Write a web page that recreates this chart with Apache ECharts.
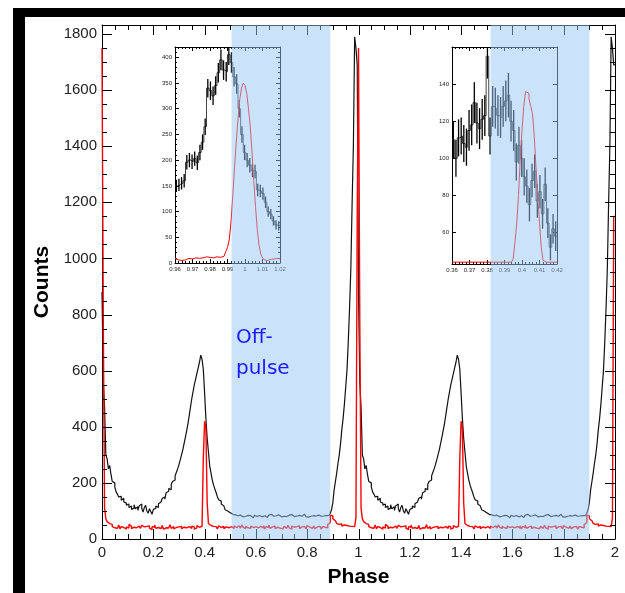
<!DOCTYPE html>
<html><head><meta charset="utf-8">
<script src="https://cdn.jsdelivr.net/npm/echarts@6/dist/echarts.min.js"></script>
<style>html,body{margin:0;padding:0;background:#fff}#c{width:625px;height:593px}</style>
</head><body><div id="c"></div>
<script>
// ---- main profile: one rotation, bins of 0.005 in phase (shown twice, phase 0-2) ----
const binWidth = 0.005;
const cycles = [0, 1];
const blackCounts = [
 880,560,470,300,285,250,262,230,205,200,185,168,160,150,152,138,145,132,128,120,
 125,112,118,105,110,122,108,115,102,118,125,110,96,112,120,100,92,108,98,88,
 105,110,118,112,126,132,128,145,150,142,165,170,180,176,195,205,210,225,238,250,
 265,282,300,318,340,362,385,410,440,470,500,525,550,570,590,610,630,655,640,605,
 520,430,360,310,260,235,210,192,178,165,150,140,135,125,118,112,104,100,96,94,
 90,88,84,86,80,83,78,85,82,79,86,81,77,84,80,83,79,76,82,85,
 80,78,84,81,79,86,83,80,77,82,85,88,84,81,78,83,80,86,82,79,
 76,81,84,80,78,85,82,87,83,80,77,82,86,84,79,81,85,88,83,80,
 78,84,81,79,83,86,82,80,85,83,81,84,82,86,83,80,84,85,92,105,
 130,175,205,235,270,300,340,390,430,480,540,600,700,820,960,1190,1400,1790,1750,1690
];
const redCounts = [
 1750,780,110,72,62,55,48,52,44,40,46,38,42,50,36,44,41,47,35,43,
 39,52,45,37,42,48,40,34,46,41,38,49,43,36,45,40,47,39,33,44,
 42,50,38,41,46,37,43,48,35,40,45,39,42,51,38,44,36,41,47,43,
 39,45,37,42,49,40,36,44,41,38,46,43,35,40,48,42,39,45,44,290,
 420,395,130,55,48,42,45,38,44,40,36,47,41,39,45,37,43,49,40,35,
 44,42,38,46,41,36,47,43,39,50,42,37,45,40,44,38,46,41,35,43,
 48,40,37,45,42,39,47,36,44,41,50,38,43,40,46,37,42,48,39,44,
 36,41,45,38,43,49,40,35,46,42,38,44,41,47,37,43,40,45,39,36,
 48,42,44,38,41,46,37,43,40,45,39,35,44,42,47,40,52,58,85,82,
 72,65,60,55,52,48,54,46,50,44,48,42,46,43,45,41,44,48,75,1150
];
const offPulseBands = [[0.505, 0.89], [1.515, 1.9]];
const mainXTicks = [0, 0.2, 0.4, 0.6, 0.8, 1, 1.2, 1.4, 1.6, 1.8, 2];
const mainYTicks = [0, 200, 400, 600, 800, 1000, 1200, 1400, 1600, 1800];
const minorPerMajor = 4;

// ---- inset 1 (main peak) ----
const in1Start = 0.96, in1BlackBin = 0.0015, in1RedBin = 0.001;
const in1Black = [150,152,155,160,196,200,197,203,195,215,235,265,340,335,325,345,370,395,375,372,
                  405,390,362,348,300,250,215,200,190,180,178,142,140,135,118,100,95,82,74,72];
const in1Err = [12,12,12,13,14,14,14,14,14,15,15,16,18,18,18,18,19,20,19,19,
                20,20,19,19,17,16,15,14,14,13,13,12,12,12,11,10,10,9,9,9];
const in1Red = [9,6,7,5,8,6,7,9,6,8,7,10,8,9,11,10,9,12,10,11,9,10,11,12,10,
                11,12,13,15,22,30,45,80,130,185,235,280,318,340,350,345,330,300,265,215,
                160,110,65,35,18,10,6,5,8,7,9,8,10,9,8];

// ---- inset 2 (second peak) ----
const in2Start = 0.36, in2BlackBin = 0.0015, in2RedBin = 0.001;
const in2Black = [110,100,111,112,108,106,115,118,130,119,116,121,123,155,112,128,127,123,122,128,
                  131,134,120,115,98,107,100,90,85,75,88,93,77,82,70,86,65,52,62,58];
const in2Err = [10,10,10,10,10,10,11,11,11,11,11,11,11,12,10,11,11,11,11,11,
                11,12,11,11,10,10,10,10,9,9,9,9,9,9,8,9,8,7,8,8];
const in2Red = [44,44,44,44,44,44,44,44,44,44,44,44,44,44,44,44,44,44,44,44,
                44,44,44,44,44,44,44,44,44,44,44,44,44,44,44,
                46,55,65,80,100,115,128,136,135,132,128,124,112,95,80,65,52,45,44,
                44,44,44,44,44,44];
const in2YLabels = [60, 80, 100, 120, 140];

// ---- build step data ----
function stepData(counts, start, w, reps) {
  const out = [];
  reps.forEach(c => counts.forEach((v, k) => out.push([c + start + k * w, v])));
  const last = out[out.length - 1];
  out.push([last[0] + w, last[1]]);
  return out;
}
function errData(counts, errs, start, w) {
  return counts.map((v, k) => [start + (k + 0.5) * w, v - errs[k], v + errs[k]]);
}
function minorOf(majors) {
  const out = [];
  for (let i = 0; i + 1 < majors.length; i++) {
    const step = (majors[i + 1] - majors[i]) / minorPerMajor;
    for (let j = 1; j < minorPerMajor; j++) out.push(majors[i] + j * step);
  }
  return out;
}
const mainBlack = stepData(blackCounts, 0, binWidth, cycles);
const mainRed = stepData(redCounts, 0, binWidth, cycles);

function errRender(params, api) {
  const x = api.value(0), a = api.coord([x, api.value(1)]), b = api.coord([x, api.value(2)]);
  return { type: 'line', shape: { x1: a[0], y1: a[1], x2: b[0], y2: b[1] }, style: { stroke: '#000', lineWidth: 1.3 } };
}
function bandRender(params, api) {
  const cs = params.coordSys;
  const a = api.coord([api.value(0), 0]), b = api.coord([api.value(1), 0]);
  return { type: 'rect', shape: { x: a[0], y: cs.y, width: b[0] - a[0], height: cs.height },
           style: { fill: 'rgba(150,200,245,0.5)' } };
}
function xTickRender(len) {
  return (params, api) => {
    const cs = params.coordSys, p = Math.round(api.coord([api.value(0), 0])[0]) + 0.5;
    const b = cs.y + cs.height, t = cs.y;
    return { type: 'group', children: [
      { type: 'line', shape: { x1: p, y1: b, x2: p, y2: b - len }, style: { stroke: '#000', lineWidth: 1 } },
      { type: 'line', shape: { x1: p, y1: t, x2: p, y2: t + len }, style: { stroke: '#000', lineWidth: 1 } } ] };
  };
}
function yTickRender(len) {
  return (params, api) => {
    const cs = params.coordSys, p = Math.round(api.coord([0, api.value(1)])[1]) + 0.5;
    const l = cs.x, r = cs.x + cs.width;
    return { type: 'group', children: [
      { type: 'line', shape: { x1: l, y1: p, x2: l + len, y2: p }, style: { stroke: '#000', lineWidth: 1 } },
      { type: 'line', shape: { x1: r, y1: p, x2: r - len, y2: p }, style: { stroke: '#000', lineWidth: 1 } } ] };
  };
}

const FONT = '"Liberation Sans", Arial, sans-serif';
function mainAxis(extra) {
  return Object.assign({
    type: 'value', gridIndex: 0,
    axisLine: { show: true, onZero: false, lineStyle: { color: '#000', width: 1 } },
    axisTick: { show: false }, minorTick: { show: false },
    splitLine: { show: false }, minorSplitLine: { show: false }
  }, extra);
}
function inAxis(extra) {
  return Object.assign({
    type: 'value',
    axisLine: { show: true, onZero: false, lineStyle: { color: '#000', width: 1 } },
    axisTick: { show: true, inside: true, length: 4, lineStyle: { color: '#000', width: 1 } },
    minorTick: { show: true, splitNumber: 5, length: 2, lineStyle: { color: '#000', width: 1 } },
    splitLine: { show: false }, minorSplitLine: { show: false }
  }, extra);
}
const inLabel = { fontSize: 6, color: '#222', fontFamily: FONT, margin: 3 };

const chart = echarts.init(document.getElementById('c'), null, { renderer: 'canvas' });
chart.setOption({
  animation: false,
  backgroundColor: '#fff',
  grid: [
    { left: 102, top: 25, width: 513, height: 515 },
    { left: 175, top: 47, width: 105, height: 216 },
    { left: 452, top: 47, width: 105, height: 217 }
  ],
  xAxis: [
    mainAxis({ min: 0, max: 2, interval: 0.2, position: 'bottom',
      name: 'Phase', nameLocation: 'middle', nameGap: 28,
      nameTextStyle: { fontSize: 21, fontWeight: 'bold', color: '#000', fontFamily: FONT },
      axisLabel: { fontSize: 15, color: '#222', fontFamily: FONT, margin: 6,
        formatter: v => mainXTicks.some(t => Math.abs(t - v) < 1e-6) ? String(Math.round(v * 10) / 10) : '' } }),
    mainAxis({ min: 0, max: 2, interval: 0.2, position: 'top', axisLabel: { show: false } }),
    inAxis({ gridIndex: 1, min: in1Start, max: 1.02, interval: 0.01, position: 'bottom',
      axisLabel: Object.assign({ formatter: v => String(+v.toFixed(2)) }, inLabel) }),
    inAxis({ gridIndex: 1, min: in1Start, max: 1.02, interval: 0.01, position: 'top', axisLabel: { show: false } }),
    inAxis({ gridIndex: 2, min: in2Start, max: 0.42, interval: 0.01, position: 'bottom',
      axisLabel: Object.assign({ formatter: v => String(+v.toFixed(2)) }, inLabel) }),
    inAxis({ gridIndex: 2, min: in2Start, max: 0.42, interval: 0.01, position: 'top', axisLabel: { show: false } })
  ],
  yAxis: [
    mainAxis({ min: 0, max: 1832, interval: 200, position: 'left',
      name: 'Counts', nameLocation: 'middle', nameGap: 40, nameRotate: 90,
      nameTextStyle: { fontSize: 21, fontWeight: 'bold', color: '#000', fontFamily: FONT },
      axisLabel: { fontSize: 15, color: '#222', fontFamily: FONT, margin: 5,
        formatter: v => (v % 200 === 0 ? String(v) : '') } }),
    mainAxis({ min: 0, max: 1832, interval: 200, position: 'right', axisLabel: { show: false } }),
    inAxis({ gridIndex: 1, min: 0, max: 420, interval: 50, position: 'left',
      axisLabel: Object.assign({ formatter: v => (v % 50 === 0 && v <= 400 ? String(v) : '') }, inLabel) }),
    inAxis({ gridIndex: 1, min: 0, max: 420, interval: 50, position: 'right', axisLabel: { show: false } }),
    inAxis({ gridIndex: 2, min: 43, max: 160, position: 'left', minorTick: { show: false },
      axisTick: { show: true, inside: true, length: 4, customValues: in2YLabels, lineStyle: { color: '#000' } },
      axisLabel: Object.assign({ customValues: in2YLabels }, inLabel) }),
    inAxis({ gridIndex: 2, min: 43, max: 160, position: 'right', minorTick: { show: false },
      axisTick: { show: true, inside: true, length: 4, customValues: in2YLabels, lineStyle: { color: '#000' } },
      axisLabel: { show: false } })
  ],
  series: [
    { type: 'line', xAxisIndex: 0, yAxisIndex: 0, data: mainBlack, step: 'end', showSymbol: false,
      lineStyle: { color: '#111', width: 1.2 }, z: 2 },
    { type: 'line', xAxisIndex: 0, yAxisIndex: 0, data: mainRed, step: 'end', showSymbol: false,
      lineStyle: { color: '#ff0000', width: 1.4 }, z: 3 },
    { type: 'line', xAxisIndex: 2, yAxisIndex: 2, data: stepData(in1Black, in1Start, in1BlackBin, [0]), step: 'end',
      showSymbol: false, lineStyle: { color: '#444', width: 1 }, z: 2 },
    { type: 'custom', xAxisIndex: 2, yAxisIndex: 2, data: errData(in1Black, in1Err, in1Start, in1BlackBin),
      renderItem: errRender, clip: true, z: 3 },
    { type: 'line', xAxisIndex: 2, yAxisIndex: 2, data: stepData(in1Red, in1Start, in1RedBin, [0]), step: 'end',
      showSymbol: false, lineStyle: { color: '#ff0000', width: 1 }, z: 4 },
    { type: 'line', xAxisIndex: 4, yAxisIndex: 4, data: stepData(in2Black, in2Start, in2BlackBin, [0]), step: 'end',
      showSymbol: false, lineStyle: { color: '#444', width: 1 }, z: 2 },
    { type: 'custom', xAxisIndex: 4, yAxisIndex: 4, data: errData(in2Black, in2Err, in2Start, in2BlackBin),
      renderItem: errRender, clip: true, z: 3 },
    { type: 'line', xAxisIndex: 4, yAxisIndex: 4, data: stepData(in2Red, in2Start, in2RedBin, [0]), step: 'end',
      showSymbol: false, lineStyle: { color: '#ff0000', width: 1 }, z: 4 },
    // main frame ticks (inward, on all four sides)
    { type: 'custom', xAxisIndex: 0, yAxisIndex: 0, data: mainXTicks.map(v => [v, 0]), renderItem: xTickRender(10), z: 5, silent: true },
    { type: 'custom', xAxisIndex: 0, yAxisIndex: 0, data: minorOf(mainXTicks).map(v => [v, 0]), renderItem: xTickRender(5), z: 5, silent: true },
    { type: 'custom', xAxisIndex: 0, yAxisIndex: 0, data: mainYTicks.map(v => [0, v]), renderItem: yTickRender(10), z: 5, silent: true },
    { type: 'custom', xAxisIndex: 0, yAxisIndex: 0, data: minorOf(mainYTicks).map(v => [0, v]), renderItem: yTickRender(5), z: 5, silent: true },
    { type: 'custom', xAxisIndex: 0, yAxisIndex: 0, data: offPulseBands, encode: { x: [0, 1] },
      renderItem: bandRender, z: 20 }
  ],
  graphic: [
    { type: 'rect', z: 100, shape: { x: 13, y: 8, width: 612, height: 9 }, style: { fill: '#000' } },
    { type: 'rect', z: 100, shape: { x: 13, y: 8, width: 12, height: 585 }, style: { fill: '#000' } },
    { type: 'text', z: 100, left: 236, top: 322,
      style: { text: 'Off-\npulse', font: '20px "DejaVu Sans", sans-serif', fill: '#1a1aff', lineHeight: 31 } }
  ]
});
</script></body></html>
